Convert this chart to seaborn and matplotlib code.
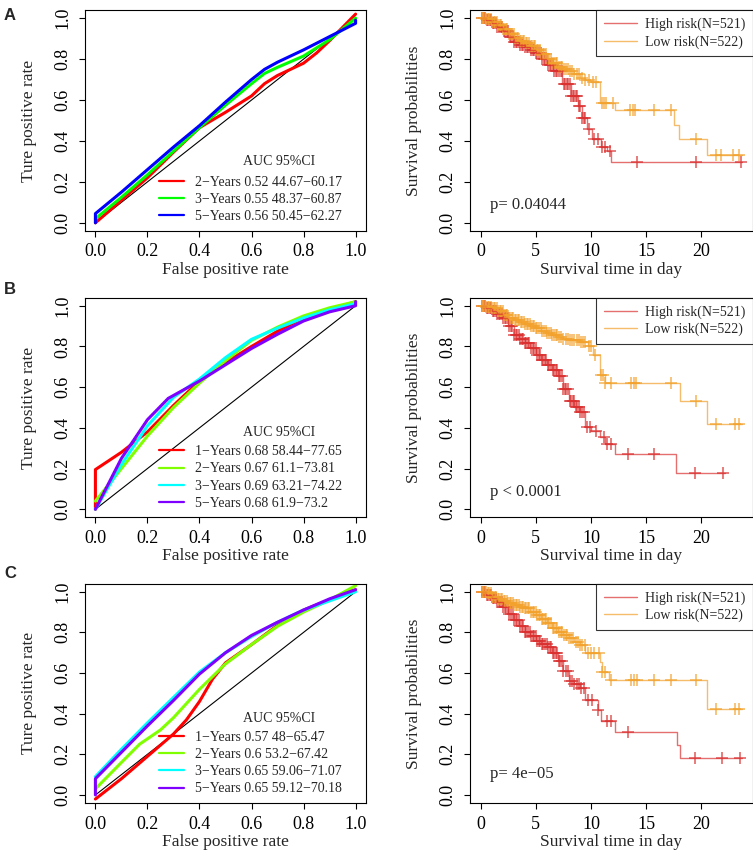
import numpy as np
import matplotlib
matplotlib.use("Agg")
import matplotlib.pyplot as plt
import seaborn as sns

sns.set_style("ticks")
plt.rcParams['font.family'] = ['Liberation Serif', 'DejaVu Serif']
plt.rcParams['axes.linewidth'] = 0.8

# ---------------- ROC data (fpr, tpr) ----------------
roc_A = {
    "2\u2212Years 0.52 44.67\u221260.17": ([0, 0.1, 0.2, 0.3, 0.4, 0.5, 0.6, 0.65, 0.7, 0.75, 0.8, 0.85, 0.9, 1.0],
                                         [0.0, 0.11, 0.22, 0.345, 0.465, 0.54, 0.62, 0.68, 0.72, 0.75, 0.78, 0.83, 0.89, 1.02]),
    "3\u2212Years 0.55 48.37\u221260.87": ([0, 0.1, 0.2, 0.3, 0.4, 0.5, 0.6, 0.65, 0.7, 0.8, 0.9, 1.0],
                                         [0.02, 0.125, 0.235, 0.35, 0.465, 0.575, 0.68, 0.73, 0.76, 0.815, 0.895, 1.0]),
    "5\u2212Years 0.56 50.45\u221262.27": ([0, 0, 0.1, 0.2, 0.3, 0.4, 0.5, 0.6, 0.65, 0.7, 0.8, 0.9, 1.0, 1.0],
                                         [0.0, 0.045, 0.15, 0.26, 0.37, 0.475, 0.59, 0.70, 0.75, 0.785, 0.845, 0.91, 0.975, 0.99]),
}
roc_B = {
    "1\u2212Years 0.68 58.44\u221277.65": ([0, 0, 0.1, 0.2, 0.3, 0.4, 0.5, 0.6, 0.7, 0.8, 0.9, 1.0],
                                         [0.0, 0.195, 0.28, 0.38, 0.51, 0.63, 0.72, 0.80, 0.875, 0.94, 0.98, 1.02]),
    "2\u2212Years 0.67 61.1\u221273.81": ([0, 0.1, 0.2, 0.3, 0.4, 0.5, 0.6, 0.7, 0.8, 0.9, 1.0],
                                        [0.04, 0.2, 0.36, 0.50, 0.62, 0.73, 0.83, 0.895, 0.95, 0.99, 1.02]),
    "3\u2212Years 0.69 63.21\u221274.22": ([0, 0.1, 0.2, 0.3, 0.4, 0.5, 0.6, 0.7, 0.8, 0.9, 1.0],
                                         [0.0, 0.22, 0.41, 0.55, 0.64, 0.745, 0.835, 0.89, 0.94, 0.98, 1.01]),
    "5\u2212Years 0.68 61.9\u221273.2": ([0, 0.1, 0.2, 0.28, 0.4, 0.5, 0.6, 0.7, 0.8, 0.9, 1.0, 1.0],
                                       [0.0, 0.25, 0.44, 0.545, 0.63, 0.71, 0.79, 0.86, 0.925, 0.97, 1.0, 1.02]),
}
roc_C = {
    "1\u2212Years 0.57 48\u221265.47": ([0, 0.1, 0.2, 0.3, 0.35, 0.4, 0.45, 0.5, 0.6, 0.7, 0.8, 0.9, 1.0],
                                      [-0.02, 0.08, 0.19, 0.30, 0.37, 0.46, 0.57, 0.65, 0.74, 0.835, 0.91, 0.96, 1.01]),
    "2\u2212Years 0.6 53.2\u221267.42": ([0, 0.1, 0.17, 0.25, 0.3, 0.4, 0.5, 0.6, 0.7, 0.8, 0.9, 1.0],
                                       [0.03, 0.16, 0.25, 0.32, 0.38, 0.52, 0.645, 0.74, 0.83, 0.90, 0.96, 1.03]),
    "3\u2212Years 0.65 59.06\u221271.07": ([0, 0.1, 0.2, 0.3, 0.4, 0.5, 0.6, 0.7, 0.8, 0.9, 1.0],
                                         [0.09, 0.225, 0.355, 0.48, 0.605, 0.70, 0.78, 0.85, 0.91, 0.955, 1.0]),
    "5\u2212Years 0.65 59.12\u221270.18": ([0, 0, 0.1, 0.2, 0.3, 0.4, 0.5, 0.6, 0.7, 0.8, 0.9, 1.0],
                                         [0.0, 0.08, 0.21, 0.34, 0.465, 0.595, 0.70, 0.785, 0.85, 0.91, 0.965, 1.01]),
}
roc_colors_A = ["#FF0000", "#00FF00", "#0000FF"]
roc_colors_BC = ["#FF0000", "#80FF00", "#00FFFF", "#8000FF"]

# ---------------- Kaplan-Meier data (step times, survival, censor times) ----------------
high_t_A = [0, 0.5, 1.0, 1.5, 2.0, 2.5, 3.0, 3.5, 4.0, 4.5, 5.0, 5.5, 6.0, 6.6, 7.4, 8.2, 8.8, 9.2, 9.6, 10.1, 10.9, 11.5, 11.8, 23.7]
high_s_A = [1.0, 0.99, 0.975, 0.955, 0.935, 0.91, 0.885, 0.87, 0.86, 0.845, 0.83, 0.80, 0.77, 0.74, 0.68, 0.62, 0.57, 0.51, 0.46, 0.41, 0.37, 0.35, 0.295, 0.295]
high_c_A = [0.15, 0.3, 0.42, 0.58, 0.7, 0.85, 0.97, 1.12, 1.25, 1.4, 1.52, 1.66, 1.8, 1.93, 2.07, 2.2, 2.36, 2.48,
            2.63, 2.77, 2.9, 3.05, 3.18, 3.33, 3.46, 3.6, 3.75, 3.88, 4.02, 4.17, 4.3, 4.45, 4.58, 4.72, 4.87, 5.0,
            5.15, 5.28, 5.43, 5.56, 5.7, 5.85, 5.98, 6.13, 6.26, 6.4, 6.55, 6.68, 6.83, 6.96, 7.1, 7.25, 7.38, 7.52,
            7.66, 7.8, 7.95, 8.08, 8.22, 8.36, 8.5, 8.63, 8.78, 8.92, 9.05, 9.2, 9.35, 9.5, 9.8, 10.3, 10.6, 11.0,
            11.3, 11.7, 14.2, 19.5, 23.6]
low_t_A = [0, 0.5, 1.0, 1.5, 2.0, 2.5, 3.0, 3.5, 4.0, 4.5, 5.0, 5.5, 6.0, 6.5, 7.0, 7.5, 8.0, 8.5, 9.0, 9.5, 10.0, 10.8, 12.2, 17.5, 18.0, 20.5, 23.7]
low_s_A = [1.0, 0.995, 0.98, 0.965, 0.945, 0.925, 0.905, 0.89, 0.88, 0.865, 0.845, 0.825, 0.80, 0.78, 0.76, 0.75, 0.74, 0.725, 0.71, 0.70, 0.69, 0.585, 0.55, 0.48, 0.41, 0.33, 0.33]
low_c_A = [0.1, 0.22, 0.37, 0.5, 0.63, 0.78, 0.9, 1.05, 1.18, 1.33, 1.46, 1.6, 1.73, 1.88, 2.0, 2.15, 2.28, 2.42,
           2.56, 2.7, 2.84, 2.98, 3.12, 3.26, 3.4, 3.54, 3.68, 3.82, 3.96, 4.1, 4.24, 4.38, 4.52, 4.66, 4.8, 4.94,
           5.08, 5.22, 5.36, 5.5, 5.64, 5.78, 5.92, 6.06, 6.2, 6.35, 6.5, 6.65, 6.8, 6.95, 7.1, 7.25, 7.4, 7.55,
           7.7, 7.9, 8.1, 8.3, 8.5, 8.7, 8.95, 9.2, 9.5, 9.8, 10.2, 10.5, 11.0, 11.2, 11.4, 12.0, 13.5, 13.8, 14.0,
           15.7, 17.3, 19.5, 21.3, 21.8, 22.9, 23.4]

high_t_B = [0, 0.5, 1.0, 1.5, 2.0, 2.5, 3.0, 3.5, 4.0, 4.5, 5.0, 5.5, 6.0, 6.5, 7.0, 7.5, 8.0, 8.5, 9.0, 9.5, 10.0, 10.8, 11.3, 12.2, 17.7, 22.2]
high_s_B = [1.0, 0.99, 0.975, 0.96, 0.94, 0.90, 0.855, 0.835, 0.815, 0.79, 0.758, 0.735, 0.71, 0.685, 0.655, 0.59, 0.53, 0.50, 0.48, 0.405, 0.385, 0.355, 0.32, 0.27, 0.18, 0.18]
high_c_B = [0.12, 0.27, 0.4, 0.55, 0.68, 0.83, 0.95, 1.1, 1.23, 1.38, 1.5, 1.65, 1.78, 1.92, 2.05, 2.19, 2.33, 2.46,
            2.6, 2.74, 2.88, 3.02, 3.16, 3.3, 3.44, 3.58, 3.72, 3.86, 4.0, 4.14, 4.28, 4.42, 4.56, 4.7, 4.84, 4.98,
            5.12, 5.26, 5.4, 5.54, 5.68, 5.82, 5.96, 6.1, 6.24, 6.38, 6.52, 6.66, 6.8, 6.94, 7.08, 7.22, 7.36, 7.5,
            7.64, 7.78, 7.92, 8.06, 8.2, 8.34, 8.48, 8.62, 8.76, 8.9, 9.04, 9.18, 9.35, 9.6, 9.9, 10.5, 11.2, 11.5,
            11.8, 13.4, 15.7, 19.4, 22.0]
low_t_B = [0, 0.5, 1.0, 1.5, 2.0, 2.5, 3.0, 3.5, 4.0, 4.5, 5.0, 5.5, 6.0, 6.5, 7.0, 7.5, 8.0, 9.0, 9.7, 10.2, 10.8, 11.3, 18.1, 20.5, 23.7]
low_s_B = [1.0, 0.995, 0.99, 0.975, 0.955, 0.94, 0.93, 0.92, 0.91, 0.90, 0.89, 0.875, 0.865, 0.855, 0.845, 0.835, 0.83, 0.82, 0.80, 0.76, 0.66, 0.62, 0.53, 0.42, 0.42]
low_c_B = [0.1, 0.24, 0.36, 0.5, 0.64, 0.77, 0.9, 1.04, 1.17, 1.31, 1.45, 1.58, 1.72, 1.85, 1.99, 2.12, 2.26, 2.4,
           2.53, 2.67, 2.8, 2.94, 3.08, 3.21, 3.35, 3.48, 3.62, 3.76, 3.89, 4.03, 4.17, 4.3, 4.44, 4.58, 4.72, 4.86,
           5.0, 5.15, 5.3, 5.45, 5.6, 5.75, 5.9, 6.05, 6.2, 6.35, 6.5, 6.65, 6.8, 6.95, 7.1, 7.3, 7.5, 7.7, 7.9,
           8.1, 8.3, 8.5, 8.7, 8.9, 9.1, 9.3, 9.5, 9.8, 10.0, 10.4, 10.9, 11.1, 11.3, 11.8, 13.6, 13.9, 14.1, 17.3,
           19.5, 21.3, 23.1, 23.4]

high_t_C = [0, 0.5, 1.0, 1.5, 2.0, 2.5, 3.0, 3.5, 4.0, 4.5, 5.0, 5.5, 6.0, 6.5, 7.0, 7.5, 8.0, 8.5, 9.0, 9.5, 10.6, 10.9, 12.2, 17.8, 18.1, 23.7]
high_s_C = [1.0, 0.985, 0.967, 0.95, 0.926, 0.89, 0.86, 0.83, 0.80, 0.78, 0.76, 0.745, 0.73, 0.70, 0.66, 0.61, 0.56, 0.545, 0.525, 0.467, 0.42, 0.364, 0.31, 0.245, 0.184, 0.184]
high_c_C = [0.14, 0.28, 0.41, 0.56, 0.69, 0.84, 0.96, 1.11, 1.24, 1.39, 1.51, 1.65, 1.79, 1.92, 2.06, 2.2, 2.34, 2.47,
            2.61, 2.75, 2.89, 3.03, 3.17, 3.31, 3.45, 3.59, 3.73, 3.87, 4.01, 4.15, 4.29, 4.43, 4.57, 4.71, 4.85,
            4.99, 5.13, 5.27, 5.41, 5.55, 5.69, 5.83, 5.97, 6.11, 6.25, 6.39, 6.53, 6.67, 6.81, 6.95, 7.09, 7.23,
            7.37, 7.51, 7.7, 7.9, 8.1, 8.3, 8.5, 8.7, 8.9, 9.1, 9.4, 9.7, 10.1, 10.6, 11.5, 11.8, 13.4, 19.4, 21.9,
            23.5]
low_t_C = [0, 0.5, 1.0, 1.5, 2.0, 2.5, 3.0, 3.5, 4.0, 4.5, 5.0, 5.5, 6.0, 6.5, 7.0, 7.5, 8.0, 8.5, 9.0, 9.5, 10.8, 11.0, 11.6, 20.5, 23.7]
low_s_C = [1.0, 0.995, 0.975, 0.965, 0.954, 0.944, 0.934, 0.926, 0.918, 0.90, 0.885, 0.865, 0.845, 0.82, 0.80, 0.785, 0.77, 0.755, 0.74, 0.70, 0.656, 0.607, 0.565, 0.423, 0.423]
low_c_C = [0.1, 0.23, 0.36, 0.49, 0.63, 0.76, 0.89, 1.03, 1.16, 1.3, 1.43, 1.57, 1.7, 1.84, 1.97, 2.11, 2.24, 2.38,
           2.51, 2.65, 2.78, 2.92, 3.05, 3.19, 3.32, 3.46, 3.6, 3.73, 3.87, 4.0, 4.14, 4.28, 4.42, 4.56, 4.7, 4.84,
           4.98, 5.12, 5.26, 5.4, 5.54, 5.68, 5.82, 5.96, 6.1, 6.24, 6.38, 6.52, 6.66, 6.8, 6.95, 7.1, 7.25, 7.4,
           7.55, 7.7, 7.85, 8.0, 8.2, 8.4, 8.6, 8.8, 9.0, 9.2, 9.45, 9.7, 10.0, 10.3, 10.7, 11.0, 11.3, 11.8, 13.6,
           13.9, 14.2, 15.7, 17.3, 19.5, 21.3, 23.1, 23.4]

p_texts = ["p= 0.04044", "p < 0.0001", "p= 4e\u221205"]
p_y = [0.087, 0.085, 0.105]
km_labels = ["High risk(N=521)", "Low risk(N=522)"]
km_colors = ["#DA3030", "#F2A22C"]
panel_letters = ["A", "B", "C"]
letter_y = [15, 290, 573]

W, H = 753, 850
fig = plt.figure(figsize=(W / 100, H / 100), dpi=100)

rows = [(10, 231), (297.6, 517.4), (583.6, 803.1)]
left_x = (85, 366)
right_x = (470, 753)


def add_axes(xr, yr):
    return fig.add_axes([xr[0] / W, 1 - yr[1] / H, (xr[1] - xr[0]) / W, (yr[1] - yr[0]) / H])


def style_axes(ax):
    for sp in ax.spines.values():
        sp.set_visible(True)
        sp.set_color("black")
        sp.set_linewidth(0.8)
    ax.tick_params(axis="both", direction="out", length=4, width=0.8, labelsize=13, colors="black")
    ax.tick_params(axis="x", pad=5)
    ax.tick_params(axis="y", pad=6)
    for lab in ax.get_yticklabels():
        lab.set_rotation(90)
        lab.set_va("center")


def km_step(t, s, c):
    t = np.asarray(t)
    s = np.asarray(s)
    idx = np.searchsorted(t, np.asarray(c), side="right") - 1
    return s[idx]


roc_sets = [(roc_A, roc_colors_A), (roc_B, roc_colors_BC), (roc_C, roc_colors_BC)]
km_sets = [
    ((high_t_A, high_s_A, high_c_A), (low_t_A, low_s_A, low_c_A)),
    ((high_t_B, high_s_B, high_c_B), (low_t_B, low_s_B, low_c_B)),
    ((high_t_C, high_s_C, high_c_C), (low_t_C, low_s_C, low_c_C)),
]

for i, yr in enumerate(rows):
    # ROC panel
    ax = add_axes(left_x, yr)
    curves, cols = roc_sets[i]
    ax.plot([0, 1], [0, 1], color="black", lw=0.8)
    for (lab, (x, y)), col in zip(curves.items(), cols):
        sns.lineplot(x=x, y=y, sort=False, estimator=None, color=col, lw=2.2, label=lab, ax=ax)
    ax.set_xlim(-0.04, 1.04)
    ax.set_ylim(-0.04, 1.04)
    ax.set_xticks([0, 0.2, 0.4, 0.6, 0.8, 1.0])
    ax.set_yticks([0, 0.2, 0.4, 0.6, 0.8, 1.0])
    ax.set_xticklabels(["0.0", "0.2", "0.4", "0.6", "0.8", "1.0"])
    ax.set_yticklabels(["0.0", "0.2", "0.4", "0.6", "0.8", "1.0"])
    ax.set_xlabel("False positive rate", fontsize=12.5, labelpad=1)
    ax.set_ylabel("Ture positive rate", fontsize=12.5, labelpad=12)
    style_axes(ax)
    leg = ax.legend(loc="lower left", bbox_to_anchor=(0.262, 0.035), frameon=False,
                    fontsize=10, handlelength=1.8, handletextpad=0.85, labelspacing=0.3,
                    borderpad=0, borderaxespad=0)
    for ln in leg.get_lines():
        ln.set_linewidth(1.6)
    n = len(curves)
    ax.text(0.69, 0.07 + n * 0.071 + 0.03, "AUC 95%CI", transform=ax.transAxes,
            ha="center", va="center", fontsize=10)
    fig.text(10 / W, 1 - letter_y[i] / H, panel_letters[i],
             family="Liberation Sans", weight="bold", fontsize=12, ha="center", va="center")

    # KM panel
    ax = add_axes(right_x, yr)
    for (t, s, c), lab, col in zip(km_sets[i], km_labels, km_colors):
        sns.lineplot(x=t, y=s, estimator=None, drawstyle="steps-post", color=col, lw=1.0,
                     alpha=0.7, label=lab, ax=ax)
        sns.scatterplot(x=c, y=km_step(t, s, c), marker="+", s=72, linewidth=1.1,
                        color=col, alpha=0.8, ax=ax)
    ax.set_xlim(-0.97, 24.7)
    ax.set_ylim(-0.04, 1.04)
    ax.set_xticks([0, 5, 10, 15, 20])
    ax.set_yticks([0, 0.2, 0.4, 0.6, 0.8, 1.0])
    ax.set_yticklabels(["0.0", "0.2", "0.4", "0.6", "0.8", "1.0"])
    ax.set_xlabel("Survival time in day", fontsize=12.5, labelpad=1)
    ax.set_ylabel("Survival probabilities", fontsize=12.5, labelpad=12)
    style_axes(ax)
    leg = ax.legend(loc="upper right", frameon=True, fancybox=False, edgecolor="black",
                    fontsize=10, handlelength=2.4, handletextpad=0.55, labelspacing=0.3,
                    borderpad=0.55, borderaxespad=0)
    leg.get_frame().set_linewidth(0.8)
    ax.text(0.84, p_y[i], p_texts[i], ha="left", va="center", fontsize=12)

fig.savefig("out.png", dpi=100)
